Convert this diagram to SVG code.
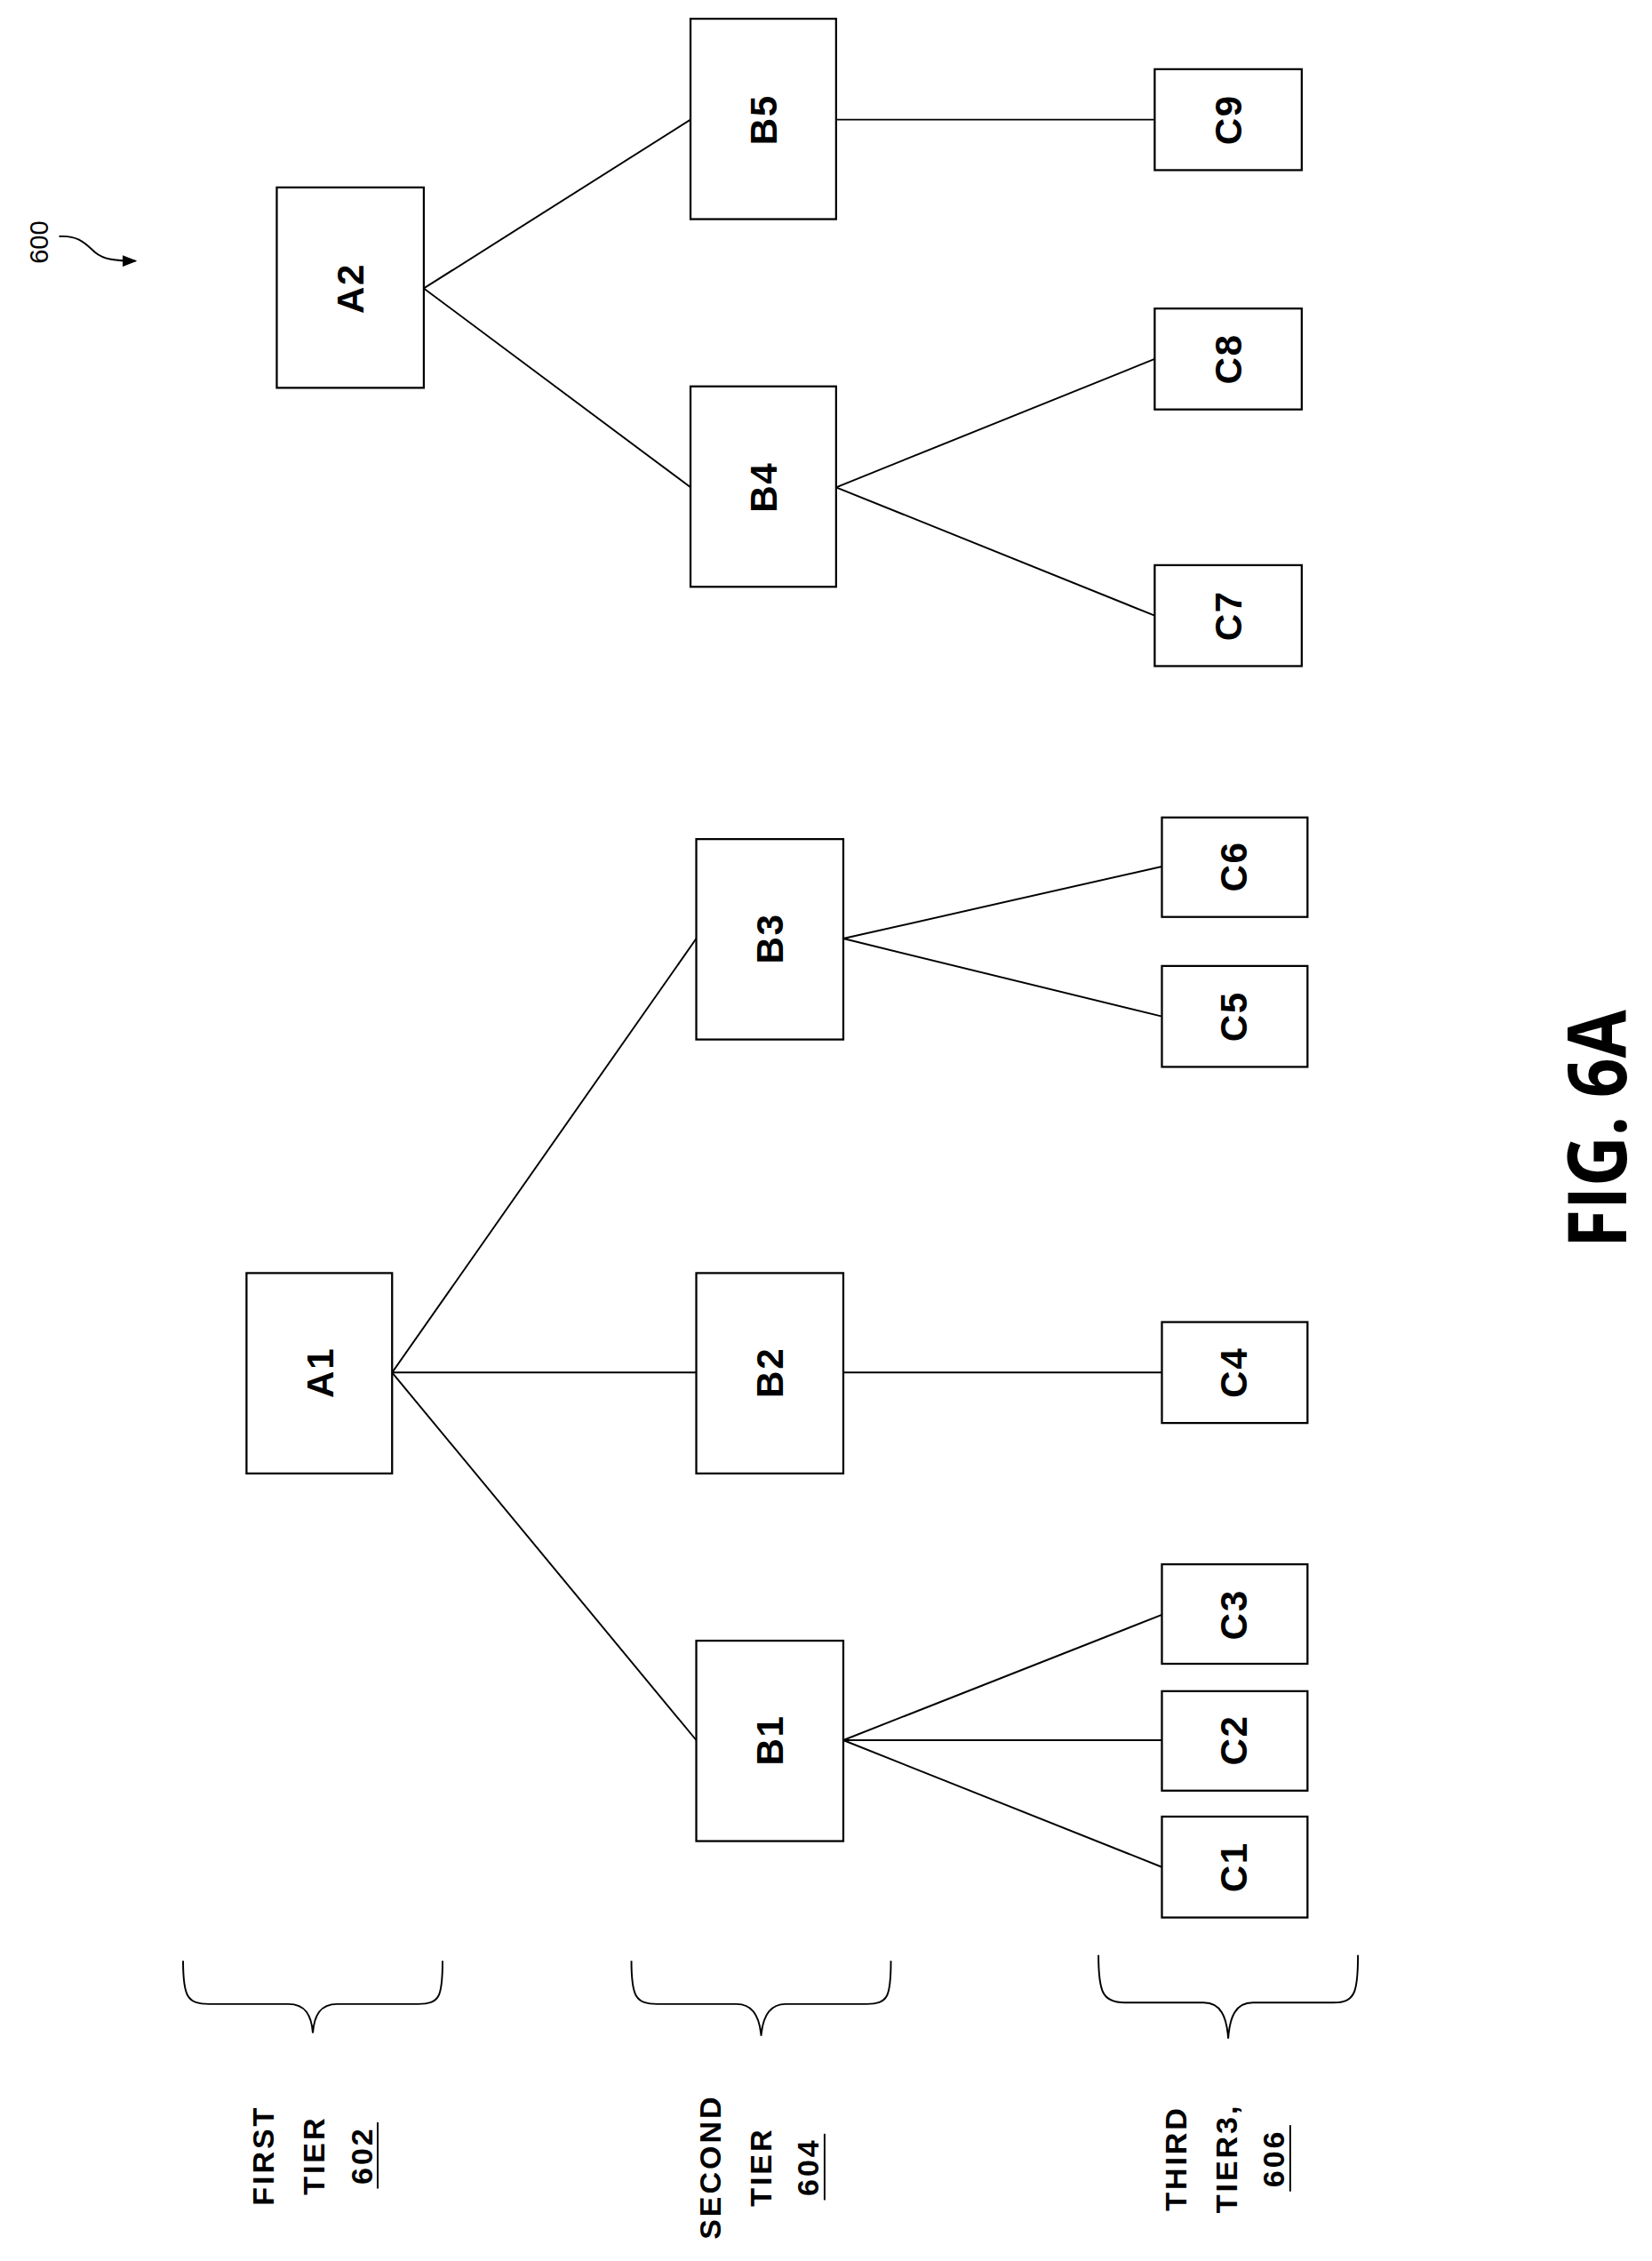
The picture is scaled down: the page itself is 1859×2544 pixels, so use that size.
<svg xmlns="http://www.w3.org/2000/svg" width="1859" height="2544" viewBox="0 0 1859 2544">
<style>
.b{fill:#fff;stroke:#000;stroke-width:1.4}
.l{fill:none;stroke:#000;stroke-width:1.2}
.t{font-family:"Liberation Sans",Arial,sans-serif;font-weight:bold;font-size:26px;text-anchor:middle;letter-spacing:1px}
.s{font-family:"Liberation Sans",Arial,sans-serif;font-weight:bold;font-size:21px;text-anchor:middle;letter-spacing:1.8px}
</style>
<defs><marker id="ah" markerWidth="10" markerHeight="8" refX="9" refY="4" orient="auto" markerUnits="userSpaceOnUse"><path d="M0,0 L10,4 L0,8 Z"/></marker></defs>
<rect width="1859" height="2544" fill="#fff"/>
<g transform="scale(1.6222)">
<g id="connectors" class="l">
<line x1="294" y1="200" x2="479" y2="83"/>
<line x1="294" y1="200" x2="479" y2="338"/>
<line x1="580" y1="83" x2="801" y2="83"/>
<line x1="580" y1="338" x2="801" y2="249"/>
<line x1="580" y1="338" x2="801" y2="427"/>
<line x1="272" y1="952" x2="483" y2="651"/>
<line x1="272" y1="952" x2="483" y2="952"/>
<line x1="272" y1="952" x2="483" y2="1207"/>
<line x1="585" y1="651" x2="806" y2="601"/>
<line x1="585" y1="651" x2="806" y2="705"/>
<line x1="585" y1="952" x2="806" y2="952"/>
<line x1="585" y1="1207" x2="806" y2="1120"/>
<line x1="585" y1="1207" x2="806" y2="1207"/>
<line x1="585" y1="1207" x2="806" y2="1295"/>
</g>
<g id="A2"><rect class="b" x="192" y="130" width="102" height="139"/><text class="t" transform="translate(243,200) rotate(-90)" dy="9">A2</text></g>
<g id="B5"><rect class="b" x="479" y="13" width="101" height="139"/><text class="t" transform="translate(530,83) rotate(-90)" dy="9">B5</text></g>
<g id="C9"><rect class="b" x="801" y="48" width="102" height="70"/><text class="t" transform="translate(852,83) rotate(-90)" dy="9">C9</text></g>
<g id="B4"><rect class="b" x="479" y="268" width="101" height="139"/><text class="t" transform="translate(530,338) rotate(-90)" dy="9">B4</text></g>
<g id="C8"><rect class="b" x="801" y="214" width="102" height="70"/><text class="t" transform="translate(852,249) rotate(-90)" dy="9">C8</text></g>
<g id="C7"><rect class="b" x="801" y="392" width="102" height="70"/><text class="t" transform="translate(852,427) rotate(-90)" dy="9">C7</text></g>
<g id="A1"><rect class="b" x="171" y="883" width="101" height="139"/><text class="t" transform="translate(222,952) rotate(-90)" dy="9">A1</text></g>
<g id="B3"><rect class="b" x="483" y="582" width="102" height="139"/><text class="t" transform="translate(534,651) rotate(-90)" dy="9">B3</text></g>
<g id="C6"><rect class="b" x="806" y="567" width="101" height="69"/><text class="t" transform="translate(856,601) rotate(-90)" dy="9">C6</text></g>
<g id="C5"><rect class="b" x="806" y="670" width="101" height="70"/><text class="t" transform="translate(856,705) rotate(-90)" dy="9">C5</text></g>
<g id="B2"><rect class="b" x="483" y="883" width="102" height="139"/><text class="t" transform="translate(534,952) rotate(-90)" dy="9">B2</text></g>
<g id="C4"><rect class="b" x="806" y="917" width="101" height="70"/><text class="t" transform="translate(856,952) rotate(-90)" dy="9">C4</text></g>
<g id="B1"><rect class="b" x="483" y="1138" width="102" height="139"/><text class="t" transform="translate(534,1207) rotate(-90)" dy="9">B1</text></g>
<g id="C3"><rect class="b" x="806" y="1085" width="101" height="69"/><text class="t" transform="translate(856,1120) rotate(-90)" dy="9">C3</text></g>
<g id="C2"><rect class="b" x="806" y="1173" width="101" height="69"/><text class="t" transform="translate(856,1207) rotate(-90)" dy="9">C2</text></g>
<g id="C1"><rect class="b" x="806" y="1260" width="101" height="70"/><text class="t" transform="translate(856,1295) rotate(-90)" dy="9">C1</text></g>
<g id="braces" class="l">
<path d="M127,1360 C127,1385 130,1390 145,1390 L200,1390 C212,1390 216,1398 217,1410 C218,1398 222,1390 234,1390 L290,1390 C305,1390 307,1385 307,1360"/>
<path d="M438,1360 C438,1385 441,1390 456,1390 L511,1390 C523,1390 527,1400 528,1412 C529,1400 533,1390 545,1390 L601,1390 C616,1390 618,1385 618,1360"/>
<path d="M762,1356 C762,1382 765,1389 780,1389 L835,1389 C847,1389 851,1399 852,1414 C853,1399 857,1389 869,1389 L925,1389 C940,1389 942,1382 942,1356"/>
</g>
<g id="tier1" class="s">
<text transform="translate(190,1495) rotate(-90)">FIRST</text>
<text transform="translate(225,1495) rotate(-90)">TIER</text>
<text transform="translate(258,1495) rotate(-90)">602</text>
<line x1="262" y1="1472" x2="262" y2="1518" stroke="#000" stroke-width="1.2"/>
</g>
<g id="tier2" class="s">
<text transform="translate(500,1503) rotate(-90)">SECOND</text>
<text transform="translate(535,1503) rotate(-90)">TIER</text>
<text transform="translate(568,1503) rotate(-90)">604</text>
<line x1="572" y1="1480" x2="572" y2="1526" stroke="#000" stroke-width="1.2"/>
</g>
<g id="tier3" class="s">
<text transform="translate(823,1497) rotate(-90)">THIRD</text>
<text transform="translate(858,1497) rotate(-90)">TIER3,</text>
<text transform="translate(891,1497) rotate(-90)">606</text>
<line x1="895" y1="1474" x2="895" y2="1520" stroke="#000" stroke-width="1.2"/>
</g>
<g id="ref600">
<text transform="translate(33,168) rotate(-90)" style="font-family:'Liberation Sans',Arial,sans-serif;font-size:18px;text-anchor:middle">600</text>
<path d="M41,164 C55,163 60,170 66,175 C72,180 80,181 94,181" fill="none" stroke="#000" stroke-width="1.2" marker-end="url(#ah)"/>
</g>
<text id="fig" transform="translate(1128,783) rotate(-90)" textLength="165" lengthAdjust="spacingAndGlyphs" style="font-family:'Open Sans','Liberation Sans',sans-serif;font-weight:bold;font-size:56px;text-anchor:middle">FIG. 6A</text>
</g>
</svg>
